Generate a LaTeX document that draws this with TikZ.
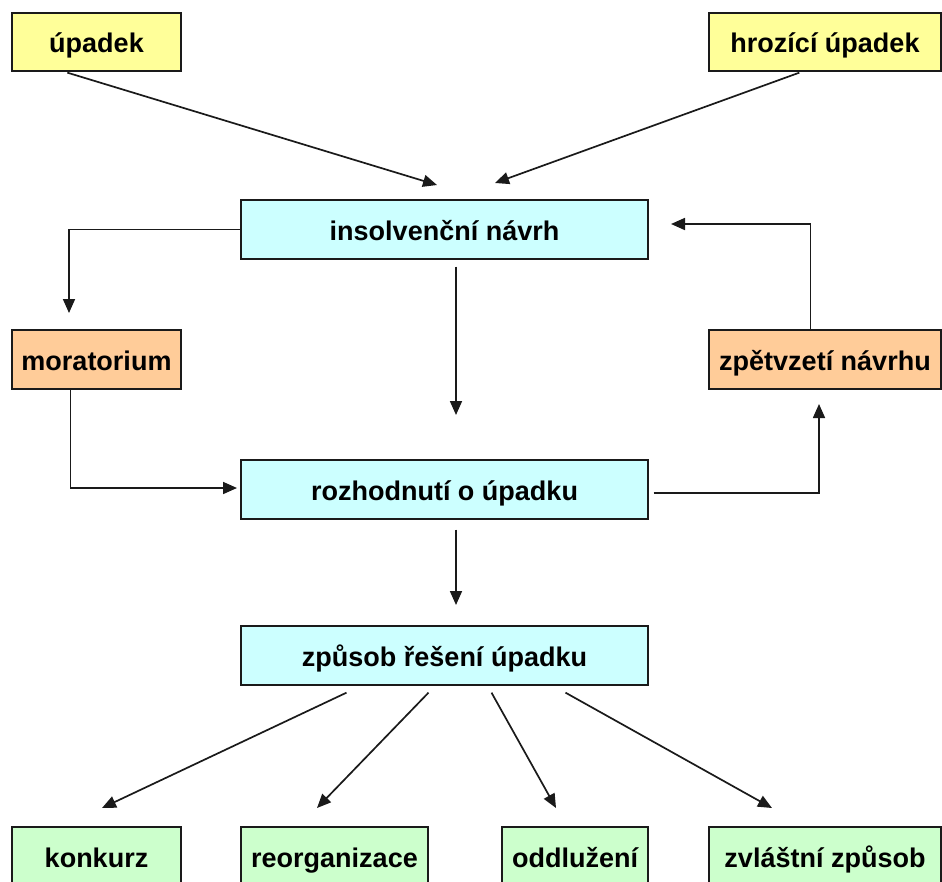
\documentclass[tikz,border=0pt]{standalone}
\usepackage{fontspec}
\setmainfont{Liberation Sans}
\usetikzlibrary{arrows.meta,calc}
\definecolor{cyel}{HTML}{FFFF99}
\definecolor{ccyan}{HTML}{CCFFFF}
\definecolor{corange}{HTML}{FFCC99}
\definecolor{cgreen}{HTML}{CCFFCC}
\definecolor{cline}{HTML}{1A1A1A}
\begin{document}
\begin{tikzpicture}[x=1pt,y=-1pt,
  box/.style={draw=cline,line width=1.3pt,rectangle,inner sep=0pt,minimum height=59pt,
    text height=24pt,text depth=3pt,
    font=\fontsize{27}{30}\selectfont\bfseries},
  arr/.style={draw=cline,line width=1.7pt,-{Triangle[length=14pt,width=12pt]}}]
\useasboundingbox (0,0) rectangle (942,881);
\fill[white] (0,0) rectangle (942,881);
% nodes
\node[box,fill=cyel,minimum width=169pt,minimum height=58pt] (up) at (96.5,42) {úpadek};
\node[box,fill=cyel,minimum width=232pt,minimum height=58pt] (hroz) at (825,42) {hrozící úpadek};
\node[box,fill=ccyan,minimum width=407pt] (ins) at (444.5,229.5) {insolvenční návrh};
\node[box,fill=corange,minimum width=169pt] (mor) at (96.5,359.5) {moratorium};
\node[box,fill=corange,minimum width=232pt] (zpet) at (825,359.5) {zpětvzetí návrhu};
\node[box,fill=ccyan,minimum width=407pt] (roz) at (444.5,489.5) {rozhodnutí o úpadku};
\node[box,fill=ccyan,minimum width=407pt] (zp) at (444.5,655.5) {způsob řešení úpadku};
\node[box,fill=cgreen,minimum width=169pt] (kon) at (96.5,856.5) {konkurz};
\node[box,fill=cgreen,minimum width=187pt] (reo) at (334.5,856.5) {reorganizace};
\node[box,fill=cgreen,minimum width=146pt] (odd) at (575,856.5) {oddlužení};
\node[box,fill=cgreen,minimum width=232pt] (zvl) at (825,856.5) {zvláštní způsob};
% free ends
\coordinate (t1) at (437,185);
\coordinate (t2) at (495,183);
\coordinate (t3) at (69,313);
\coordinate (t4) at (456,415);
\coordinate (t5) at (237,488);
\coordinate (t6) at (819,404);
\coordinate (t7) at (671,224);
\coordinate (t8) at (456,605);
\coordinate (b1) at (102,808);
\coordinate (b2) at (317,808);
\coordinate (b3) at (556,808);
\coordinate (b4) at (772,808);
% connectors
\draw[arr] ($(up.south west)+(56,1)$) -- (t1);
\draw[arr] ($(hroz.south west)+(91,1)$) -- (t2);
\draw[arr] (ins.west) -| (t3);
\draw[arr] ($(ins.south)+(11.5,7)$) -- (t4);
\draw[arr] ($(mor.south west)+(59,0)$) |- (t5);
\draw[arr] ($(roz.east)+(5,3.5)$) -| (t6);
\draw[arr] ($(zpet.north west)+(102,0)$) |- (t7);
\draw[arr] ($(roz.south)+(11.5,10)$) -- (t8);
\draw[arr] ($(zp.south)+(-98,7)$) -- (b1);
\draw[arr] ($(zp.south)+(-16,7)$) -- (b2);
\draw[arr] ($(zp.south)+(47,7)$) -- (b3);
\draw[arr] ($(zp.south)+(121,7)$) -- (b4);
\end{tikzpicture}
\end{document}
